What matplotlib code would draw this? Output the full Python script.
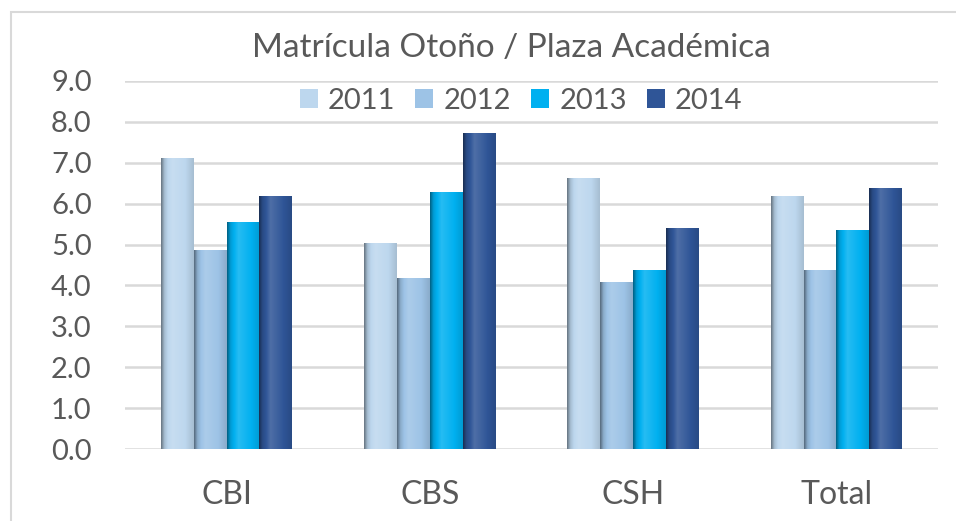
import numpy as np
import matplotlib
matplotlib.use("Agg")
import matplotlib.pyplot as plt
from matplotlib.patches import Rectangle
from matplotlib.colors import to_rgb

categories = ["CBI", "CBS", "CSH", "Total"]
years = ["2011", "2012", "2013", "2014"]
v2011 = [7.11, 5.05, 6.62, 6.19]
v2012 = [4.87, 4.17, 4.09, 4.38]
v2013 = [5.56, 6.28, 4.38, 5.35]
v2014 = [6.19, 7.74, 5.40, 6.39]
series = [v2011, v2012, v2013, v2014]
colors = ["#BDD7EE", "#9DC3E6", "#00B0F0", "#2F5597"]
yticks = [0, 1, 2, 3, 4, 5, 6, 7, 8, 9]

plt.rcParams['font.family'] = ['Lato', 'DejaVu Sans']
txt = "#595959"

W, H = 956, 521
fig = plt.figure(figsize=(W / 100, H / 100), dpi=100)
fig.patch.set_facecolor("white")

# outer chart frame
fig.patches.append(Rectangle((11 / W, -0.05), 1.1, (H - 12) / H + 0.05,
                             transform=fig.transFigure, fill=False,
                             edgecolor="#d9d9d9", linewidth=1.5))

left, right, bottom, top = 125 / W, 938 / W, (H - 449) / H, (H - 81) / H
ax = fig.add_axes([left, bottom, right - left, top - bottom])

n = len(series)
bw = 0.1615
x = np.arange(len(categories))

def shade(c, s):
    c = np.array(to_rgb(c))
    if s < 0:
        return c * (1 + s)
    return c + (1 - c) * s

ts = [0.0, 0.1, 0.35, 0.7, 1.0]
ss = [-0.45, -0.12, 0.15, 0.02, -0.12]
N = 64
tt = np.linspace(0, 1, N)

for i, (vals, col) in enumerate(zip(series, colors)):
    pos = x + (i - (n - 1) / 2) * bw
    bars = ax.bar(pos, vals, width=bw, color=col, zorder=2, linewidth=0)
    grad = np.array([shade(col, np.interp(t, ts, ss)) for t in tt])[None, :, :]
    for b in bars:
        bx, by = b.get_x(), b.get_y()
        im = ax.imshow(grad, extent=[bx, bx + b.get_width(), by, by + b.get_height()],
                       aspect="auto", zorder=3, interpolation="bilinear")
        im.set_clip_path(b)

ax.set_xlim(-0.5, len(categories) - 0.5)
ax.set_ylim(0, 9)
ax.set_yticks(yticks)
ax.set_yticklabels([f"{v:.1f}" for v in yticks])
ax.set_xticks(x)
ax.set_xticklabels(categories)
ax.tick_params(axis="y", length=0, pad=24, labelsize=21, labelcolor=txt)
ax.tick_params(axis="x", length=0, pad=22, labelsize=23, labelcolor=txt)
for sp in ax.spines.values():
    sp.set_visible(False)
ax.set_axisbelow(True)
ax.yaxis.grid(True, color="#d9d9d9", linewidth=1.8, zorder=0)
ax.xaxis.grid(False)

fig.text(511 / W, 1 - 48 / H, "Matrícula Otoño / Plaza Académica",
         ha="center", va="center", fontsize=24, color=txt)

handles = [Rectangle((0, 0), 1, 1, facecolor=c, edgecolor="none") for c in colors]
leg = fig.legend(handles, years, loc="center", bbox_to_anchor=(521 / W, 1 - 101 / H),
                 ncol=4, frameon=False, fontsize=21, handlelength=0.62,
                 handleheight=0.62, handletextpad=0.35, columnspacing=0.68,
                 labelcolor=txt, borderaxespad=0)

fig.savefig("out.png", dpi=100, facecolor="white")
